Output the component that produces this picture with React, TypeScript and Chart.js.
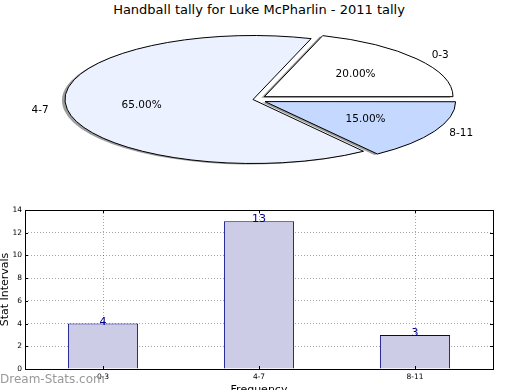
import React, { useEffect, useRef } from 'react';
import { Chart, registerables } from 'chart.js';

Chart.register(...registerables);

const TITLE = 'Handball tally for Luke McPharlin - 2011 tally';
const categories = ['0-3', '4-7', '8-11'];
const counts = [4, 13, 3];
const pieColors = ['#ffffff', '#ebf1fe', '#c5d8ff'];
const pieExplode = [56, 0, 54];
const yMin = 0;
const yMax = 14;
const yStep = 2;
const xTitle = 'Frequency';
const yTitle = 'Stat Intervals';
const watermark = 'Dream-Stats.com';

const FONT = '"DejaVu Sans", sans-serif';
const RX = 188;
const RY = 64;
const K = RY / RX;

const ellipsePlugin = {
  id: 'ellipsePie',
  beforeDatasetsDraw(chart: any) {
    const meta = chart.getDatasetMeta(0);
    const arc = meta.data[0];
    const ctx = chart.ctx;
    const dpr = chart.currentDevicePixelRatio || 1;
    ctx.save();
    ctx.translate(arc.x, arc.y);
    ctx.scale(1, -K);
    ctx.translate(-arc.x, -arc.y);
    ctx.shadowColor = 'rgba(77,77,77,0.55)';
    ctx.shadowOffsetX = -3;
    ctx.shadowOffsetY = 1;
    ctx.shadowBlur = 0;
    const proto = Object.getPrototypeOf(ctx);
    ctx.stroke = function (...args: any[]) {
      this.save();
      this.setTransform(dpr, 0, 0, dpr, 0, 0);
      this.shadowColor = 'rgba(0,0,0,0)';
      proto.stroke.apply(this, args);
      this.restore();
    };
  },
  afterDatasetsDraw(chart: any) {
    const ctx = chart.ctx;
    delete ctx.stroke;
    ctx.restore();
    const meta = chart.getDatasetMeta(0);
    const values: number[] = chart.data.datasets[0].data;
    const total = values.reduce((a, b) => a + b, 0);
    ctx.save();
    ctx.fillStyle = '#000';
    ctx.font = `10.5px ${FONT}`;
    ctx.textBaseline = 'middle';
    meta.data.forEach((arc: any, i: number) => {
      const p = arc.getProps(['x', 'y', 'startAngle', 'endAngle', 'outerRadius'], true);
      const mid = (p.startAngle + p.endAngle) / 2;
      const off = (arc.options.offset || 0) / 4;
      const cx = p.x + Math.cos(mid) * off;
      const cy = p.y + Math.sin(mid) * off;
      const map = (r: number) => [cx + Math.cos(mid) * r, p.y - (cy + Math.sin(mid) * r - p.y) * K];
      const [lx, ly] = map(p.outerRadius * 1.1);
      ctx.textAlign = Math.cos(mid) > 0 ? 'left' : 'right';
      ctx.fillText(chart.data.labels[i], lx, ly);
      const [px, py] = map(p.outerRadius * 0.6);
      ctx.textAlign = 'center';
      ctx.fillText(((values[i] / total) * 100).toFixed(2) + '%', px, py);
    });
    ctx.restore();
  },
};

const barPlugin = {
  id: 'barExtras',
  afterDraw(chart: any) {
    const ctx = chart.ctx;
    const { left, right, top, bottom } = chart.chartArea;
    const xs = chart.scales.x;
    const ys = chart.scales.y;
    ctx.save();
    ctx.strokeStyle = '#000';
    ctx.lineWidth = 1;
    ctx.beginPath();
    ys.ticks.forEach((t: any) => {
      const y = Math.round(ys.getPixelForValue(t.value)) + 0.5;
      ctx.moveTo(left, y);
      ctx.lineTo(left + 3, y);
      ctx.moveTo(right, y);
      ctx.lineTo(right - 3, y);
    });
    xs.ticks.forEach((t: any, i: number) => {
      const x = Math.round(xs.getPixelForValue(i)) + 0.5;
      ctx.moveTo(x, bottom);
      ctx.lineTo(x, bottom - 3);
      ctx.moveTo(x, top);
      ctx.lineTo(x, top + 3);
    });
    ctx.stroke();
    ctx.strokeRect(Math.round(left) + 0.5, Math.round(top) + 0.5, Math.round(right - left), Math.round(bottom - top));
    const meta = chart.getDatasetMeta(0);
    const values: number[] = chart.data.datasets[0].data;
    ctx.fillStyle = '#00008b';
    ctx.font = `11px ${FONT}`;
    ctx.textAlign = 'center';
    ctx.textBaseline = 'alphabetic';
    meta.data.forEach((bar: any, i: number) => {
      ctx.fillText(String(values[i]), bar.x, bar.y + 1);
    });
    ctx.restore();
  },
};

export default function App() {
  const pieRef = useRef<HTMLCanvasElement>(null);
  const barRef = useRef<HTMLCanvasElement>(null);

  useEffect(() => {
    document.body.style.margin = '0';
    const pie = new Chart(pieRef.current!, {
      type: 'pie',
      data: {
        labels: categories,
        datasets: [
          {
            data: counts,
            backgroundColor: pieColors,
            borderColor: '#000',
            borderWidth: 1,
            borderJoinStyle: 'miter',
            offset: pieExplode,
            clip: false,
          } as any,
        ],
      },
      options: {
        animation: false,
        responsive: false,
        events: [],
        rotation: 90,
        radius: RX,
        layout: { padding: { left: 0, right: 14, top: 9, bottom: 0 } },
        plugins: {
          legend: { display: false },
          tooltip: { enabled: false },
          title: { display: false },
        },
      } as any,
      plugins: [ellipsePlugin],
    });

    const gridColor = 'rgba(0,0,0,0.35)';
    const bar = new Chart(barRef.current!, {
      type: 'bar',
      data: {
        labels: categories,
        datasets: [
          {
            data: counts,
            backgroundColor: '#ccccE6',
            borderColor: '#000080',
            borderWidth: 1,
            barPercentage: 0.45,
            categoryPercentage: 1,
          },
        ],
      },
      options: {
        animation: false,
        responsive: false,
        events: [],
        layout: { padding: { left: 0, right: 27, top: 15, bottom: 0 } },
        plugins: { legend: { display: false }, tooltip: { enabled: false } },
        scales: {
          x: {
            offset: true,
            grid: { offset: false, color: gridColor, drawTicks: false },
            border: { display: false, dash: [1, 2] },
            ticks: { color: '#000', font: { family: FONT, size: 7.5 }, padding: 4 },
            title: {
              display: true,
              text: xTitle,
              color: '#000',
              font: { family: FONT, size: 11 },
              padding: { top: 0, bottom: -7 },
            },
            afterFit: (s: any) => {
              s.height = 21;
            },
          },
          y: {
            min: yMin,
            max: yMax,
            grid: { color: gridColor, drawTicks: false },
            border: { display: false, dash: [1, 2] },
            ticks: { stepSize: yStep, color: '#000', font: { family: FONT, size: 7.5 }, padding: 3 },
            title: {
              display: true,
              text: yTitle,
              color: '#000',
              font: { family: FONT, size: 11, lineHeight: 0.9 },
              padding: { top: 0, bottom: 0 },
            },
            afterFit: (s: any) => {
              s.width = 25;
            },
          },
        },
      } as any,
      plugins: [barPlugin],
    });

    return () => {
      pie.destroy();
      bar.destroy();
    };
  }, []);

  return (
    <div style={{ position: 'relative', width: 520, height: 390, overflow: 'hidden', background: '#fff' }}>
      <div
        style={{
          position: 'absolute',
          left: 0,
          top: 2,
          width: 518,
          height: 18,
          lineHeight: '18px',
          textAlign: 'center',
          font: `13px ${FONT}`,
          color: '#000',
          whiteSpace: 'nowrap',
        }}
      >
        {TITLE}
      </div>
      <canvas ref={pieRef} width={520} height={190} style={{ position: 'absolute', left: 0, top: 0 }} />
      <canvas ref={barRef} width={520} height={195} style={{ position: 'absolute', left: 0, top: 195 }} />
      <div
        style={{
          position: 'absolute',
          left: 0,
          top: 373,
          font: `12px ${FONT}`,
          lineHeight: '12px',
          color: '#999',
          whiteSpace: 'nowrap',
        }}
      >
        {watermark}
      </div>
    </div>
  );
}
